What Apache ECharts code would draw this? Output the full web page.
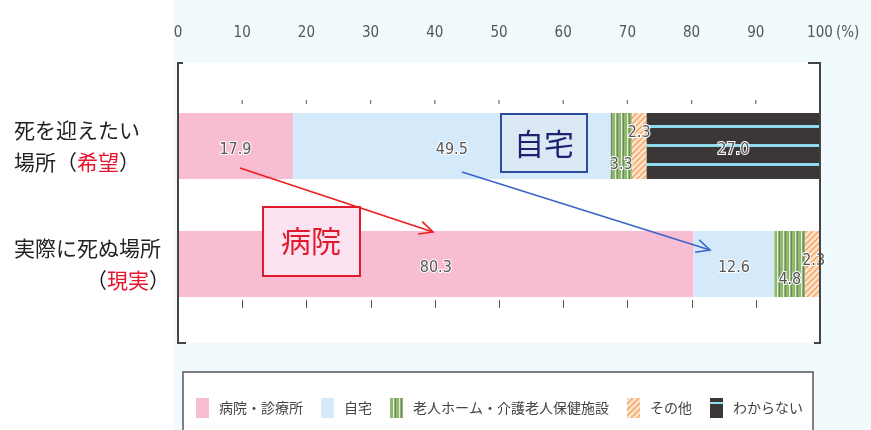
<!DOCTYPE html>
<html>
<head>
<meta charset="UTF-8">
<script src="https://cdn.jsdelivr.net/npm/echarts@6/dist/echarts.min.js"></script>
<style>
  html, body { margin: 0; background: #fff; }
  #c { width: 871px; height: 430px; }
</style>
</head>
<body>
<div id="c"></div>
<script>
// データ（%）
const categories = ['希望', '現実'];
const seriesNames = ['病院・診療所', '自宅', '老人ホーム・介護老人保健施設', 'その他', 'わからない'];
const hospital = [17.9, 80.3];
const home = [49.5, 12.6];
const nursing = [3.3, 4.8];
const other = [2.3, 2.3];
const unknown = [27.0, null];
const tickValues = [10, 20, 30, 40, 50, 60, 70, 80, 90];
const xMin = 0, xMax = 100, xStep = 10;

const NUM_FONT = '"Liberation Sans Narrow", "DejaVu Sans Condensed", "Noto Sans", sans-serif';
const JP_FONT = '"Noto Sans CJK JP", sans-serif';

// 模様（canvas パターン）
function tile(w, h, draw) {
  const c = document.createElement('canvas');
  c.width = w; c.height = h;
  draw(c.getContext('2d'));
  return { image: c, repeat: 'repeat' };
}
const greenStripe = tile(6, 10, g => {
  g.fillStyle = '#8dbb6a'; g.fillRect(0, 0, 6, 10);
  g.fillStyle = '#e3f0d8'; g.fillRect(3, 0, 1, 10);
  g.fillStyle = '#7d7d7d'; g.fillRect(5, 0, 1, 10);
});
const orangeHatch = tile(6, 6, g => {
  g.fillStyle = '#fde1c8'; g.fillRect(0, 0, 6, 6);
  g.strokeStyle = '#f3a363'; g.lineWidth = 1.4;
  g.beginPath();
  g.moveTo(-1, 7); g.lineTo(7, -1);
  g.moveTo(-1, 1); g.lineTo(1, -1);
  g.moveTo(5, 7); g.lineTo(7, 5);
  g.stroke();
});
const darkLines = tile(8, 19, g => {
  g.fillStyle = '#3b3737'; g.fillRect(0, 0, 8, 19);
  g.fillStyle = '#8fdcf0'; g.fillRect(0, 11, 8, 3);
});
const darkLegend = tile(8, 19, g => {
  g.fillStyle = '#3b3737'; g.fillRect(0, 0, 8, 19);
  g.fillStyle = '#8fdcf0'; g.fillRect(0, 4, 8, 2);
});

const fills = ['#f8bdd3', '#d4e9fa', greenStripe, orangeHatch, darkLines];
const values = [hospital, home, nursing, other, unknown];
// 小さい区間のラベル位置ずらし
const labelShift = {
  '2-0': [0, 19], '3-0': [0, -13], '2-1': [0, 16], '3-1': [1, -3]
};

const chart = echarts.init(document.getElementById('c'), null, { renderer: 'canvas' });

const L = 178, R = 820;

function arrow(x1, y1, x2, y2, color) {
  const a = Math.atan2(y2 - y1, x2 - x1), len = 15, sp = 0.45;
  return {
    type: 'group', z: 100,
    children: [
      { type: 'line', z: 100, shape: { x1, y1, x2, y2 }, style: { stroke: color, lineWidth: 1.6 } },
      { type: 'polyline', z: 100, shape: { points: [
          [x2 - len * Math.cos(a - sp), y2 - len * Math.sin(a - sp)],
          [x2, y2],
          [x2 - len * Math.cos(a + sp), y2 - len * Math.sin(a + sp)]
        ] }, style: { stroke: color, lineWidth: 1.6, fill: null } }
    ]
  };
}

const hiddenX = gridIndex => ({ gridIndex, type: 'value', min: xMin, max: xMax, show: false });
const blankY = gridIndex => ({ gridIndex, type: 'value', min: 0, max: 1, show: false });
// 上側の目盛り：細い矩形シンボル
const tickSeries = (gridIndex, h) => ({
  type: 'scatter', silent: true, z: 5,
  xAxisIndex: gridIndex, yAxisIndex: gridIndex,
  symbol: 'rect', symbolSize: [1.3, h],
  itemStyle: { color: '#555' },
  data: tickValues.map(v => [v, 0.5])
});

const option = {
  backgroundColor: '#fff',
  animation: false,
  graphic: [
    { type: 'rect', z: -10, shape: { x: 174, y: 0, width: 697, height: 430 }, style: { fill: '#f1fbfe' } },
    { type: 'rect', z: -9, shape: { x: L, y: 63, width: R - L, height: 280 }, style: { fill: '#fff' } },
    { type: 'rect', z: -9, shape: { x: 183, y: 372, width: 630, height: 70 }, style: { fill: '#fff', stroke: '#555', lineWidth: 1.5 } },
    { type: 'polyline', z: 50, shape: { points: [[183, 63], [L, 63], [L, 343], [186, 343]] }, style: { stroke: '#444', lineWidth: 2, fill: null } },
    { type: 'polyline', z: 50, shape: { points: [[808, 63], [R, 63], [R, 343], [814, 343]] }, style: { stroke: '#444', lineWidth: 2, fill: null } },
    { type: 'text', z: 50, x: 836, y: 33, style: { text: '(%)', fill: '#555', font: '15px ' + NUM_FONT, verticalAlign: 'middle' } },
    // 注記
    { type: 'rect', z: 90, shape: { x: 501, y: 114, width: 86, height: 58 }, style: { fill: '#dde8f7', stroke: '#2e4c9e', lineWidth: 2 } },
    { type: 'text', z: 91, x: 544, y: 144, style: { text: '自宅', font: '30px ' + JP_FONT, fill: '#1b2370', align: 'center', verticalAlign: 'middle' } },
    { type: 'rect', z: 90, shape: { x: 263, y: 207, width: 97, height: 69 }, style: { fill: '#fde3f1', stroke: '#e01a2c', lineWidth: 2 } },
    { type: 'text', z: 91, x: 311, y: 241, style: { text: '病院', font: '30px ' + JP_FONT, fill: '#e01a2c', align: 'center', verticalAlign: 'middle' } },
    arrow(240, 168, 433, 232, '#ee1c1c'),
    arrow(462, 172, 710, 250, '#3a64c8')
  ],
  legend: {
    left: 191, top: 393,
    itemWidth: 13, itemHeight: 20, itemGap: 18,
    icon: 'rect',
    textStyle: { fontSize: 14, color: '#444', fontFamily: JP_FONT, padding: [0, 0, 0, 5] },
    data: seriesNames.map((n, i) => i === 4 ? { name: n, itemStyle: { color: darkLegend } } : n)
  },
  grid: [
    { left: L, right: 871 - R, top: 100, bottom: 122 },
    { left: L, right: 871 - R, top: 87, bottom: 107 },
    { left: L, right: 871 - R, top: 100, height: 4 }
  ],
  xAxis: [
    {
      gridIndex: 0, type: 'value', position: 'top', min: xMin, max: xMax, interval: xStep,
      axisLine: { show: false, onZero: false }, splitLine: { show: false }, axisTick: { show: false },
      axisLabel: { margin: 59, fontSize: 15, color: '#555', fontFamily: NUM_FONT }
    },
    hiddenX(1),
    hiddenX(2)
  ],
  yAxis: [
    blankY(0),
    {
      gridIndex: 1, type: 'category', inverse: true, data: categories,
      axisLine: { show: false }, axisTick: { show: false }, splitLine: { show: false },
      axisLabel: {
        align: 'left', margin: L - 14,
        formatter: (v, i) => i === 0
          ? '{a|死を迎えたい}\n{a|場所（}{r|希望}{a|）}'
          : '{a|実際に死ぬ場所}\n{p|}{a|（}{r|現実}{a|）}',
        rich: {
          a: { fontSize: 21, color: '#222', fontFamily: JP_FONT, lineHeight: 32 },
          r: { fontSize: 21, color: '#e5132b', fontFamily: JP_FONT, lineHeight: 32 },
          p: { width: 72, lineHeight: 32 }
        }
      }
    },
    blankY(2)
  ],
  series: seriesNames.map((name, si) => ({
    name, type: 'bar', stack: 'total',
    xAxisIndex: 1, yAxisIndex: 1,
    barWidth: 66,
    itemStyle: { color: fills[si] },
    label: {
      show: true, position: 'inside',
      color: '#555', fontSize: 16, fontFamily: NUM_FONT,
      textBorderColor: '#fff', textBorderWidth: 2,
      formatter: p => p.value == null ? '' : Number(p.value).toFixed(1)
    },
    data: values[si].map((v, ci) => {
      const off = labelShift[si + '-' + ci];
      return off ? { value: v, label: { offset: off } } : { value: v, label: { offset: [0, 4] } };
    })
  })).concat([tickSeries(2, 4)])
};

chart.setOption(option);

// 下側の目盛り：軸の位置から求めて線で描く
const bottomTicks = tickValues.map(v => {
  const x = Math.round(chart.convertToPixel({ xAxisIndex: 1 }, v)) + 0.5;
  return { type: 'line', z: 50, shape: { x1: x, y1: 300, x2: x, y2: 308 }, style: { stroke: '#555', lineWidth: 1 } };
});
chart.setOption({ graphic: option.graphic.concat(bottomTicks) });
</script>
</body>
</html>
